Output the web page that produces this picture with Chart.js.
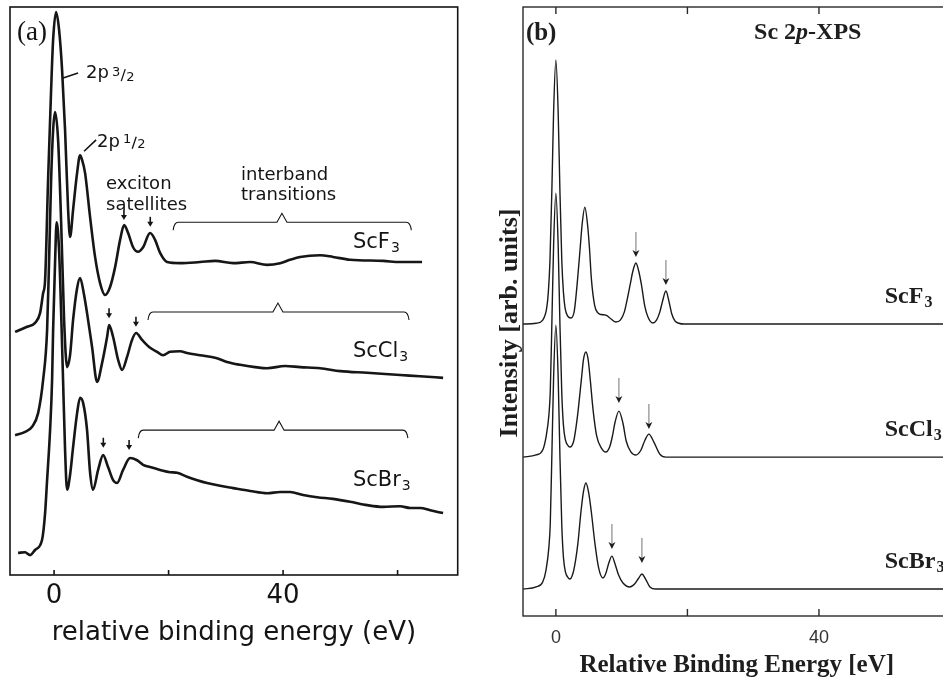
<!DOCTYPE html>
<html>
<head>
<meta charset="utf-8">
<title>Sc 2p XPS</title>
<script src="https://cdn.jsdelivr.net/npm/chart.js@4.4.1/dist/chart.umd.min.js"></script>
<style>
html, body { margin:0; padding:0; background:#fff; width:943px; height:684px; overflow:hidden; }
.panel { position:absolute; top:0; height:684px; }
#wrapA { left:0; width:470px; }
#wrapB { left:495px; width:475px; }
</style>
</head>
<body>
<div id="wrapA" class="panel"><canvas id="chartA"></canvas></div>
<div id="wrapB" class="panel"><canvas id="chartB"></canvas></div>
<script>
// ---------- data ----------
const compounds = ['ScF3', 'ScCl3', 'ScBr3'];
const tickLabelsA = [0, 40];
const tickLabelsB = [0, 40];

// panel (a): measured spectra (relative binding energy eV, intensity arb.)
const aF3E = [-6.81,-4.72,-3.32,-2.45,-1.92,-1.57,-1.05,-0.52,-0.17,0.35,0.87,1.40,1.92,2.45,2.79,3.32,4.02,4.54,4.89,5.41,6.29,7.16,8.03,8.91,9.78,10.66,11.53,12.23,12.93,13.80,14.67,15.55,16.77,17.64,18.52,19.74,22.01,25.50,28.12,31.27,34.24,37.2,39.48,41.22,42.97,46.46,48.73,51.7,57.47,60.44,64.28];
const aF3I = [42.8,43.7,44.4,46.1,49.6,51.9,69.5,85.4,94.2,99.1,96.0,88.9,78.3,64.3,59.5,64.3,70.8,73.9,73.1,70.8,63.0,56.0,51.4,49.3,50.7,54.2,59.0,61.6,60.2,57.7,56.9,57.7,60.2,59.0,56.7,55.1,54.9,55.1,55.3,54.9,55.1,54.6,54.9,55.5,56.0,56.3,56.0,55.5,55.3,55.1,55.1];
const aCl3E = [-6.81,-5.07,-3.84,-2.79,-1.92,-1.22,-0.87,-0.52,-0.17,0.17,0.70,1.22,1.75,2.27,2.79,3.32,4.02,4.54,5.24,5.76,6.64,7.51,8.38,9.26,9.61,10.31,11.18,11.88,12.75,13.62,14.32,15.37,16.77,17.99,19.04,20.26,22.01,23.23,25.5,28.3,30.2,32.5,35.1,37.2,40.35,42.97,46.46,50.0,54.67,60.44,63.9,67.95];
const aCl3I = [24.6,25.2,26.1,28.5,34.3,43.1,55.5,69.5,78.3,81.5,76.6,62.5,44.9,36.6,38.7,44.9,50.5,52.3,49.3,46.1,40.1,34.0,37.3,41.9,44.0,41.9,37.9,36.1,38.4,41.4,42.6,41.4,40.0,39.3,38.7,39.3,39.4,39.1,38.7,38.2,37.5,37.0,36.6,36.4,36.8,36.6,36.4,35.9,35.6,35.2,35.0,34.7];
const aBr3E = [-6.29,-5.07,-4.19,-3.32,-2.10,-1.57,-1.22,-0.70,-0.35,-0.17,0.17,0.44,0.87,1.22,1.57,1.92,2.27,2.79,3.32,4.02,4.54,5.07,5.76,6.29,6.81,7.69,8.56,9.43,10.31,11.0,12.05,13.28,14.5,15.55,16.77,18.52,20.26,21.48,23.23,25.0,26.72,29.0,31.27,34.24,37.2,39.5,41.22,43.5,45.94,48.7,51.7,54.7,57.47,60.44,62.2,63.93,65.7,67.95];
const aBr3I = [3.9,4.0,3.5,4.4,6.2,10.9,16.7,25.5,34.3,43.1,55.0,62.1,57.2,46.6,34.3,22.0,15.0,17.6,22.5,28.5,31.2,30.3,25.5,18.0,15.0,18.5,21.1,19.0,16.7,16.2,18.5,20.6,20.2,19.4,19.0,18.5,18.1,18.0,17.3,16.7,16.2,15.7,15.3,14.8,14.4,14.6,14.6,14.1,13.7,13.4,12.9,12.3,12.0,12.1,11.8,11.8,11.4,10.9];

// panel (b): calculated spectra (intensity normalised to main peak = 100)
const bF3E = [-5,-3.0,-2.0,-1.4,-1.15,-0.9,-0.6,-0.35,0,0.35,0.6,0.9,1.15,1.4,1.8,2.28,2.8,3.3,3.7,4.0,4.41,4.8,5.1,5.4,5.9,6.4,6.9,7.6,8.2,9.1,9.8,10.4,10.9,11.3,11.7,12.17,12.6,13.0,13.5,14.0,14.75,15.3,15.8,16.2,16.73,17.2,17.6,18.1,18.7,19.5,30,60];
const bF3I = [0,0.3,1.5,6,12,24,52,80,100,80,52,24,12,6,3,2.3,5,17,29,38,44.3,38,29,17,7,4.2,3.6,3.4,2.3,0.8,1.5,4.5,10,15,20,23.1,20,15,7,2.7,0.4,1.5,4.5,8.5,12.5,8.5,4,1.2,0.3,0,0,0];
const bCl3E = [-5,-3.0,-2.0,-1.5,-1.06,-0.85,-0.6,-0.35,0,0.35,0.6,0.9,1.15,1.45,1.8,2.13,2.7,3.1,3.4,3.9,4.2,4.56,4.9,5.2,5.65,6.2,6.9,7.6,8.2,8.6,8.97,9.58,10.19,10.7,11.4,12.17,12.9,13.54,14.14,14.9,15.8,16.7,30,60];
const bCl3I = [0,0.8,2.7,7.6,16,25,52,80,100,80,52,24,12,6.5,4.5,3.8,6,12,18,30,37,39.8,37,30,18,8,3.5,1.9,4,8,12.9,17.4,12.9,6,2,0.8,2.5,6.4,8.7,5.7,1.1,0,0,0];
const bBr3E = [-5,-3.0,-2.0,-1.5,-1.06,-0.85,-0.6,-0.35,0,0.35,0.6,0.9,1.15,1.45,1.8,2.13,2.6,3.0,3.35,3.8,4.2,4.56,4.95,5.4,5.93,6.5,7.15,7.6,8.0,8.52,9.0,9.5,10.2,11.25,12.0,12.6,13.08,13.6,14.3,15.2,30,60];
const bBr3I = [0,0.8,2.7,7.2,16,25,52,80,100,80,52,24,12,6.5,4.5,3.8,6,11,17.4,29,37,40.2,37,29,17.4,8,4.2,6,9.5,12.5,9.5,5.5,2.3,0.8,2,4.2,5.7,4,0.8,0,0,0];
const bOffsets = [110.6, 60.2, 10.2];

// annotation anchors (data units)
const aArrowE = [[12.2,16.8],[9.6,14.3],[8.6,13.1]];
const aArrowI = [[62.5,61.3],[45.2,43.7],[22.4,22.0]];
const aBracketE = [[20.8,39.8,62.4],[16.4,39.1,62.0],[14.7,39.3,61.8]];
const aBracketI = [62.1, 46.3, 25.5];
const aLabelE = 52.2;
const aLabelI = [58.5, 39.3, 16.7];
const bArrowE = [[12.17,16.73],[9.58,14.14],[8.52,13.08]];
const bArrowI = [[136.0,125.4],[80.7,70.8],[25.4,20.1]];
const bLabelE = 50.0;
const bLabelI = [120.8, 70.5, 20.5];

// ---------- helpers ----------
const pts = (E, I, off = 0) => E.map((e, k) => ({ x: e, y: I[k] + off }));

function chemLabel(ctx, name, x, y, size, family, weight, subDy) {
  const base = name.slice(0, -1), sub = name.slice(-1);
  ctx.textAlign = 'left'; ctx.textBaseline = 'middle';
  ctx.font = `${weight} ${size}px ${family}`;
  ctx.fillText(base, x, y);
  const w = ctx.measureText(base).width;
  ctx.font = `${weight} ${Math.round(size * 0.68)}px ${family}`;
  ctx.fillText(sub, x + w + 1, y + subDy);
}

const panelAPlugin = {
  id: 'panelA',
  afterDraw(chart) {
    const { ctx, chartArea: ca, scales: { x, y } } = chart;
    const X = v => x.getPixelForValue(v), Y = v => y.getPixelForValue(v);
    const ink = '#141414';
    ctx.save();
    ctx.strokeStyle = ink; ctx.fillStyle = ink;
    ctx.lineWidth = 1.6;
    ctx.strokeRect(ca.left, ca.top, ca.right - ca.left, ca.bottom - ca.top);
    x.ticks.forEach(t => {
      if (t.value % 20 !== 0) return;
      const px = X(t.value);
      ctx.beginPath(); ctx.moveTo(px, ca.bottom); ctx.lineTo(px, ca.bottom - 5); ctx.stroke();
    });
    const sans = '"DejaVu Sans"';
    const txt = (s, e, i, font) => {
      ctx.font = font; ctx.textAlign = 'left'; ctx.textBaseline = 'middle';
      ctx.fillText(s, X(e), Y(i));
      return X(e) + ctx.measureText(s).width;
    };
    const frac = (num, den, px, py) => {
      ctx.textAlign = 'left'; ctx.textBaseline = 'middle';
      ctx.font = `13px ${sans}`;
      ctx.fillText(num, px, py - 3);
      const w = ctx.measureText(num).width;
      ctx.lineWidth = 1.3;
      ctx.beginPath(); ctx.moveTo(px + w + 1, py + 6); ctx.lineTo(px + w + 5, py - 6); ctx.stroke();
      ctx.fillText(den, px + w + 6, py + 2);
    };
    txt('(a)', -6.46, 95.4, '27px "Liberation Serif"');
    ctx.lineWidth = 1.6;
    ctx.beginPath(); ctx.moveTo(X(1.57), Y(87.5)); ctx.lineTo(X(4.19), Y(88.4)); ctx.stroke();
    ctx.beginPath(); ctx.moveTo(X(5.24), Y(74.6)); ctx.lineTo(X(7.34), Y(76.6)); ctx.stroke();
    let endX = txt('2p', 5.59, 88.4, `18px ${sans}`); frac('3', '2', endX + 3, Y(88.0));
    endX = txt('2p', 7.51, 76.2, `18px ${sans}`); frac('1', '2', endX + 3, Y(76.1));
    txt('exciton', 9.08, 68.7, `18px ${sans}`);
    txt('satellites', 9.08, 65.1, `18px ${sans}`);
    txt('interband', 32.66, 70.4, `18px ${sans}`);
    txt('transitions', 32.66, 66.9, `18px ${sans}`);
    aArrowE.forEach((row, s) => row.forEach((e, k) => {
      const px = X(e), py = Y(aArrowI[s][k]);
      ctx.lineWidth = 1.6;
      ctx.beginPath(); ctx.moveTo(px, py - 10); ctx.lineTo(px, py - 3); ctx.stroke();
      ctx.beginPath(); ctx.moveTo(px, py); ctx.lineTo(px - 3, py - 5); ctx.lineTo(px + 3, py - 5); ctx.closePath(); ctx.fill();
    }));
    ctx.lineWidth = 1.1;
    aBracketE.forEach((b, s) => {
      const x0 = X(b[0]), xm = X(b[1]), x1 = X(b[2]), yy = Y(aBracketI[s]);
      ctx.beginPath();
      ctx.moveTo(x0, yy + 8); ctx.quadraticCurveTo(x0 + 1, yy, x0 + 5, yy);
      ctx.lineTo(xm - 5, yy); ctx.lineTo(xm, yy - 9); ctx.lineTo(xm + 5, yy);
      ctx.lineTo(x1 - 5, yy); ctx.quadraticCurveTo(x1 - 1, yy, x1, yy + 8);
      ctx.stroke();
    });
    compounds.forEach((c, s) => chemLabel(ctx, c, X(aLabelE), Y(aLabelI[s]), 21, sans, 'normal', 6));
    ctx.restore();
  }
};

const panelBPlugin = {
  id: 'panelB',
  afterDraw(chart) {
    const { ctx, chartArea: ca, scales: { x, y } } = chart;
    const X = v => x.getPixelForValue(v), Y = v => y.getPixelForValue(v);
    const serif = '"Liberation Serif"';
    ctx.save();
    ctx.strokeStyle = '#2a2a2a'; ctx.fillStyle = '#1e1e1e';
    ctx.lineWidth = 1.4;
    ctx.strokeRect(ca.left, ca.top, ca.right - ca.left, ca.bottom - ca.top);
    x.ticks.forEach(t => {
      if (t.value % 20 !== 0) return;
      const px = X(t.value);
      ctx.beginPath(); ctx.moveTo(px, ca.bottom); ctx.lineTo(px, ca.bottom - 7);
      ctx.moveTo(px, ca.top); ctx.lineTo(px, ca.top + 7); ctx.stroke();
    });
    ctx.textBaseline = 'middle'; ctx.textAlign = 'left';
    ctx.font = `bold 25px ${serif}`;
    ctx.fillText('(b)', X(-4.56), Y(220.8));
    const parts = [['Sc 2', 'bold'], ['p', 'italic bold'], ['-XPS', 'bold']];
    let total = 0;
    parts.forEach(p => { ctx.font = `${p[1]} 24px ${serif}`; total += ctx.measureText(p[0]).width; });
    let cx = X(38.3) - total / 2;
    parts.forEach(p => { ctx.font = `${p[1]} 24px ${serif}`; ctx.fillText(p[0], cx, Y(220.8)); cx += ctx.measureText(p[0]).width; });
    ctx.save();
    ctx.translate(ca.left - 13, Y(111));
    ctx.rotate(-Math.PI / 2);
    ctx.textAlign = 'center'; ctx.textBaseline = 'middle';
    ctx.font = `bold 26px ${serif}`;
    ctx.fillText('Intensity [arb. units]', 0, 0);
    ctx.restore();
    bArrowE.forEach((row, s) => row.forEach((e, k) => {
      const px = X(e), py = Y(bArrowI[s][k]);
      ctx.strokeStyle = '#8a8a8a'; ctx.lineWidth = 1.2;
      ctx.beginPath(); ctx.moveTo(px, py - 25); ctx.lineTo(px, py - 4); ctx.stroke();
      ctx.fillStyle = '#1e1e1e';
      ctx.beginPath(); ctx.moveTo(px, py); ctx.lineTo(px - 3.5, py - 7); ctx.lineTo(px, py - 5); ctx.lineTo(px + 3.5, py - 7); ctx.closePath(); ctx.fill();
    }));
    ctx.fillStyle = '#1e1e1e';
    compounds.forEach((c, s) => chemLabel(ctx, c, X(bLabelE), Y(bLabelI[s]), 24, serif, 'bold', 6));
    ctx.restore();
  }
};

const commonOpts = {
  responsive: true, maintainAspectRatio: false, animation: false, devicePixelRatio: 1,
  plugins: { legend: { display: false }, tooltip: { enabled: false }, colors: { enabled: false } },
  elements: { point: { radius: 0 } }
};

// ---------- panel (a) ----------
const aSeries = [[aF3E, aF3I], [aCl3E, aCl3I], [aBr3E, aBr3I]];
new Chart(document.getElementById('chartA'), {
  type: 'line',
  data: {
    datasets: aSeries.map((s, k) => ({
      label: compounds[k], data: pts(s[0], s[1]),
      borderColor: '#161616', borderWidth: 2.6, fill: false,
      cubicInterpolationMode: 'monotone', pointRadius: 0
    }))
  },
  options: Object.assign({}, commonOpts, {
    layout: { padding: { left: 10, right: 12.3, top: 7, bottom: 0 } },
    scales: {
      x: {
        type: 'linear', min: -7.7, max: 70.5, position: 'bottom',
        grid: { display: false, drawTicks: false }, border: { display: false },
        ticks: {
          stepSize: 20, includeBounds: false, autoSkip: false, maxRotation: 0, padding: 6,
          color: '#141414', font: { family: 'DejaVu Sans', size: 26 },
          callback: v => (tickLabelsA.includes(v) ? String(v) : '')
        },
        title: {
          display: true, text: 'relative binding energy (eV)', color: '#141414',
          font: { family: 'DejaVu Sans', size: 26 }, padding: { top: 0, bottom: 35 }
        },
        afterFit: s => { s.height = 109; }
      },
      y: { display: false, min: 0, max: 100 }
    }
  }),
  plugins: [panelAPlugin]
});

// ---------- panel (b) ----------
const bSeries = [[bF3E, bF3I], [bCl3E, bCl3I], [bBr3E, bBr3I]];
new Chart(document.getElementById('chartB'), {
  type: 'line',
  data: {
    datasets: bSeries.map((s, k) => ({
      label: compounds[k], data: pts(s[0], s[1], bOffsets[k]),
      borderColor: '#1a1a1a', borderWidth: 1.4, fill: false,
      cubicInterpolationMode: 'monotone', pointRadius: 0
    }))
  },
  options: Object.assign({}, commonOpts, {
    layout: { padding: { left: 28, right: 19.5, top: 7, bottom: 0 } },
    scales: {
      x: {
        type: 'linear', min: -5, max: 60, position: 'bottom',
        grid: { display: false, drawTicks: false }, border: { display: false },
        ticks: {
          stepSize: 20, includeBounds: false, autoSkip: false, maxRotation: 0, padding: 11,
          color: '#333', font: { family: 'Liberation Sans', size: 18 },
          callback: v => (tickLabelsB.includes(v) ? String(v) : '')
        },
        title: {
          display: true, text: 'Relative Binding Energy [eV]', color: '#1e1e1e',
          font: { family: 'Liberation Serif', size: 25, weight: 'bold' }, padding: { top: 0, bottom: 3 }
        },
        afterFit: s => { s.height = 68; }
      },
      y: { display: false, min: 0, max: 230.7 }
    }
  }),
  plugins: [panelBPlugin]
});
</script>
</body>
</html>
